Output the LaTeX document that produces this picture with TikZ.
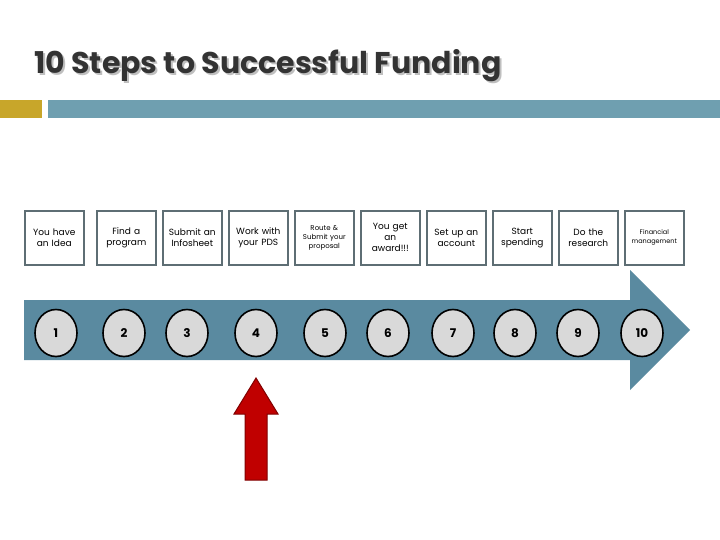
\documentclass[tikz,border=0pt]{standalone}
\usepackage{fontspec}
\usetikzlibrary{shapes.geometric}
\setmainfont{Poppins}
\begin{document}
\begin{tikzpicture}[x=1pt,y=-1pt,
  stepbox/.style={draw=boxgray,line width=1.6pt,minimum width=59pt,minimum height=54pt,anchor=north west,inner sep=1pt,align=center,font=\fontsize{9}{11}\selectfont,text=black,text width=57pt},
  num/.style={ellipse,draw=black,line width=1.6pt,fill=circgray,minimum width=42pt,minimum height=47pt,inner sep=0pt,font=\fontsize{12}{14}\selectfont\bfseries}]
\definecolor{boxgray}{HTML}{5E6E74}
\definecolor{circgray}{HTML}{D9D9D9}
\definecolor{arrblue}{HTML}{5A8AA0}
\definecolor{barblue}{HTML}{6F9FB0}
\definecolor{gold}{HTML}{C8A62A}
\definecolor{redf}{HTML}{C00000}
\useasboundingbox (0,0) rectangle (720,540);
\fill[white] (0,0) rectangle (720,540);
% title
\node[anchor=base west,font=\fontsize{30}{34}\selectfont\bfseries,text=gray!50,inner sep=0] at (36,76) {10 Steps to Successful Funding};
\node[anchor=base west,font=\fontsize{30}{34}\selectfont\bfseries,text=black!80,inner sep=0] (title) at (34,74) {10 Steps to Successful Funding};
\fill[gold] (0,100) rectangle (42,118);
\fill[barblue] (48,100) rectangle (720,118);
% big arrow
\fill[arrblue] (24,300) -- (630,300) -- (630,270) -- (690,330) -- (630,390) -- (630,360) -- (24,360) -- cycle;
% boxes
\node[stepbox] (b1) at (24,210) {You have\\an Idea};
\node[stepbox] (b2) at (96,210) {Find a\\program};
\node[stepbox] (b3) at (162,210) {Submit an\\Infosheet};
\node[stepbox] (b4) at (228,210) {Work with\\your PDS};
\node[stepbox,font=\fontsize{7}{9}\selectfont] (b5) at (294,210) {Route \&\\Submit your\\proposal};
\node[stepbox] (b6) at (360,210) {You get\\an\\award!!!};
\node[stepbox] (b7) at (426,210) {Set up an\\account};
\node[stepbox] (b8) at (492,210) {Start\\spending};
\node[stepbox] (b9) at (558,210) {Do the\\research};
\node[stepbox,font=\fontsize{6.5}{9}\selectfont] (b10) at (624,210) {Financial\\management};
% circles
\foreach \i/\x in {1/56,2/124,3/187,4/256,5/325,6/388,7/453,8/515,9/578,10/642}
  \node[num] (c\i) at (\x,333) {\i};
% red arrow
\filldraw[fill=redf,draw=red!50!black,line width=1pt] (256,378) -- (278,414) -- (267,414) -- (267,480) -- (245,480) -- (245,414) -- (234,414) -- cycle;
\end{tikzpicture}
\end{document}
